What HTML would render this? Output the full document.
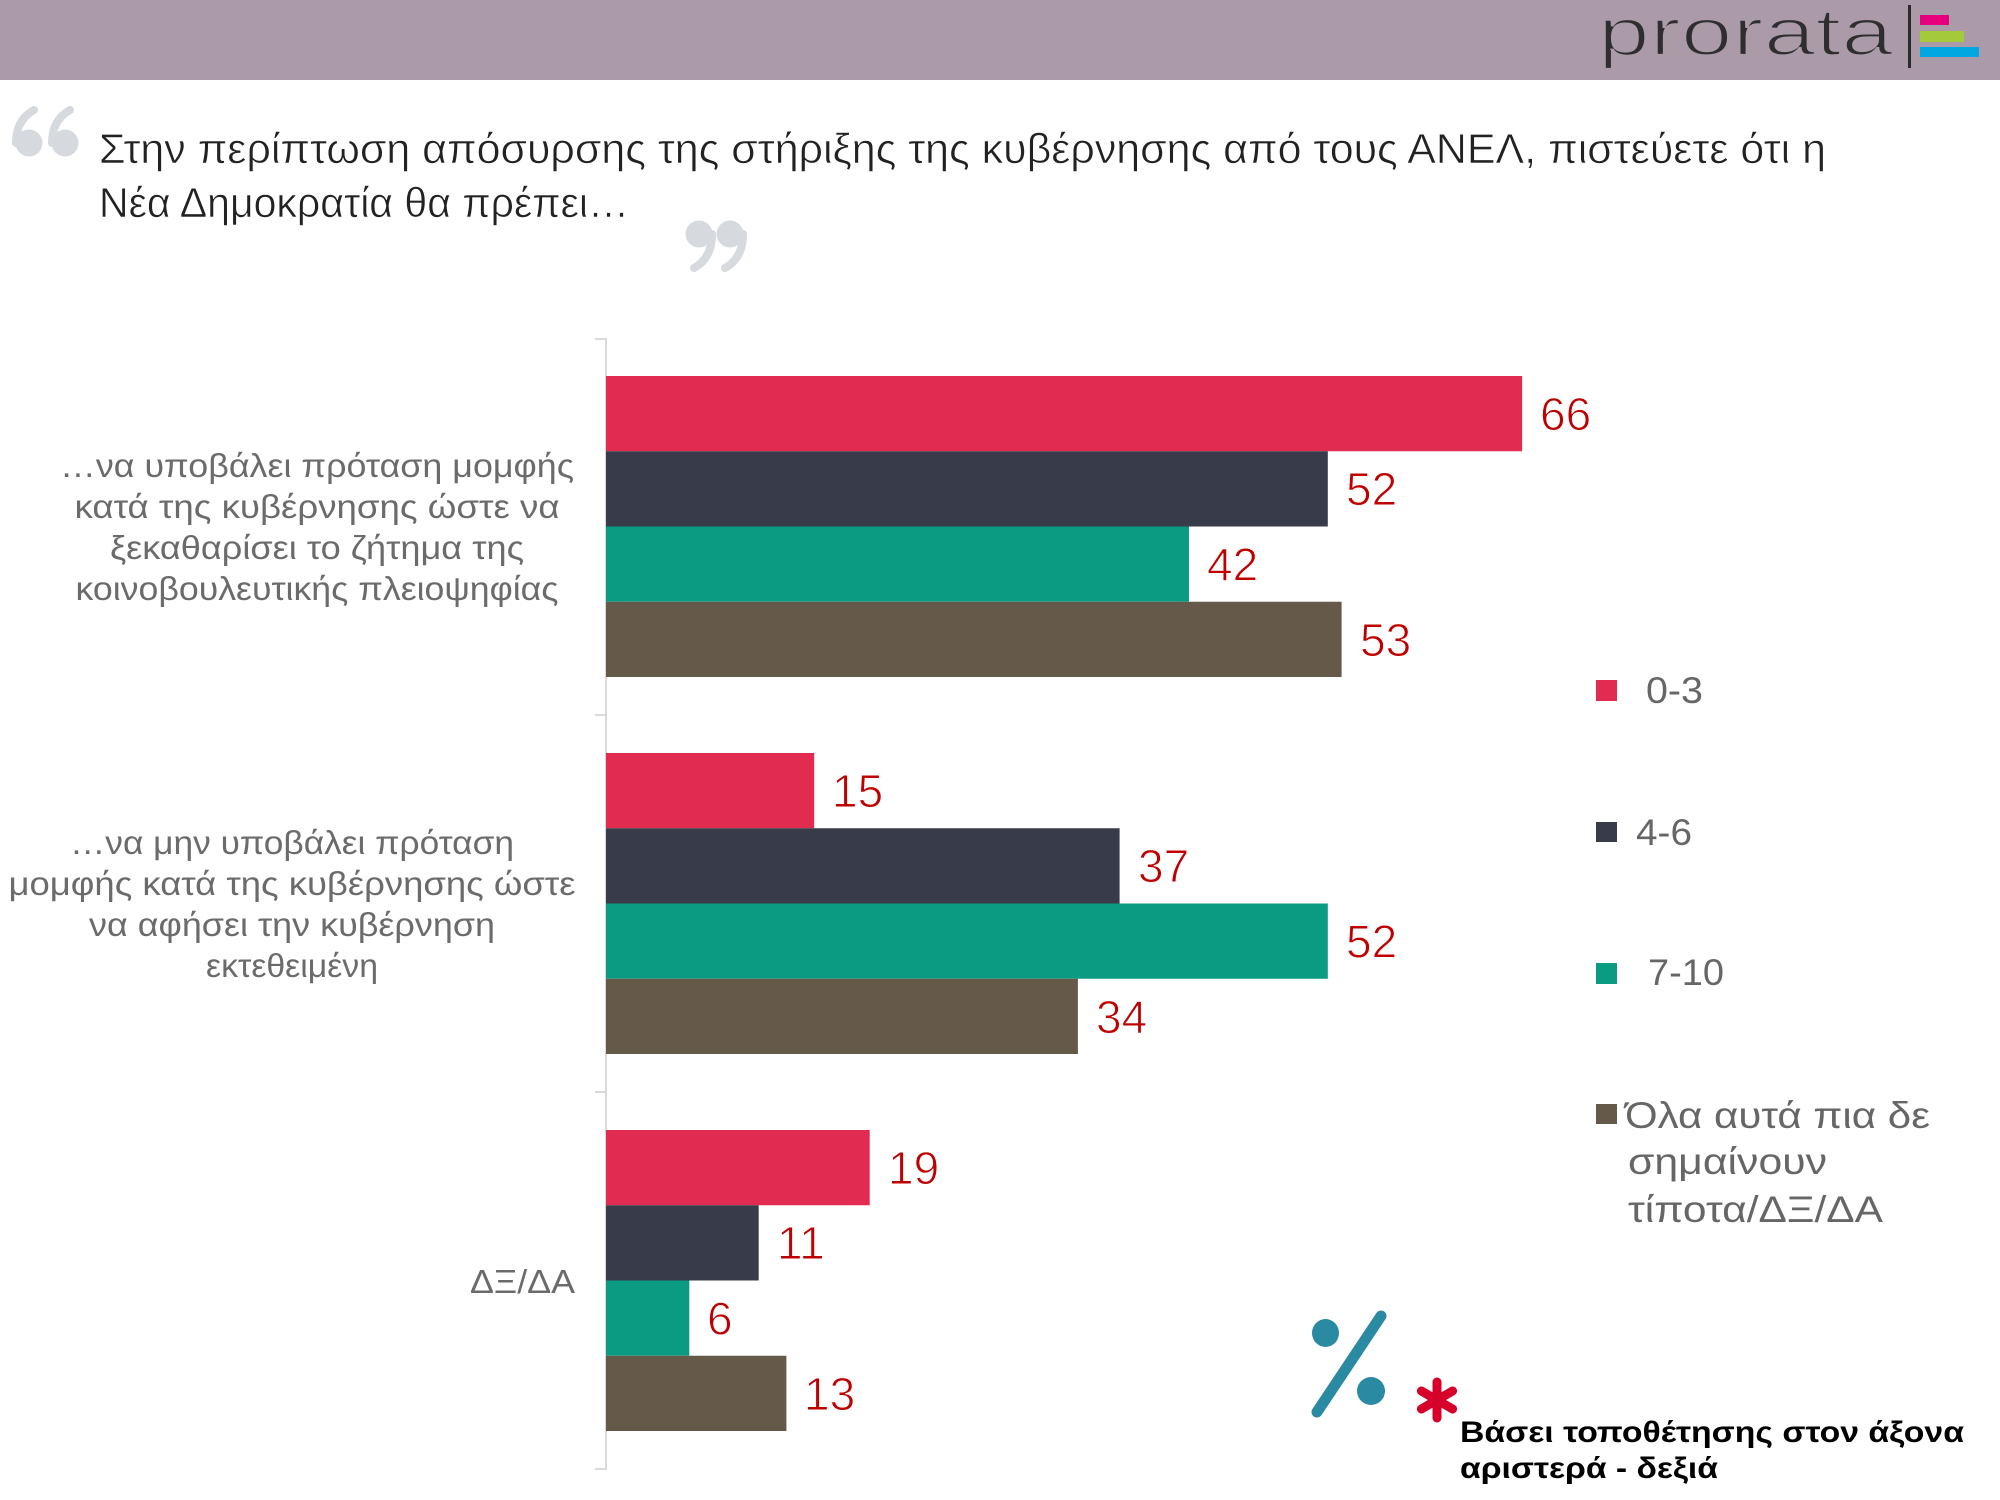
<!DOCTYPE html>
<html>
<head>
<meta charset="utf-8">
<style>
  html, body { margin: 0; padding: 0; background: #ffffff; }
  svg { display: block; }
  text { font-family: "Liberation Sans", "DejaVu Sans", sans-serif; }
</style>
</head>
<body>
<svg width="2000" height="1500" viewBox="0 0 2000 1500" xmlns="http://www.w3.org/2000/svg">
  <rect x="0" y="0" width="2000" height="1500" fill="#ffffff"/>

  <!-- Header -->
  <rect x="0" y="0" width="2000" height="80" fill="#ab9ba9"/>
  <text x="1598" y="55" font-size="67" fill="#2e2e2e" stroke="#ab9ba9" stroke-width="2.2" textLength="295" lengthAdjust="spacingAndGlyphs">prorata</text>
  <rect x="1908" y="5" width="3" height="63" fill="#2a2a2a"/>
  <rect x="1920" y="15" width="29" height="10" fill="#e6007e"/>
  <rect x="1920" y="31" width="44" height="11" fill="#a4c93a"/>
  <rect x="1920" y="47" width="59" height="10" fill="#00a7e1"/>

  <!-- Quote marks -->
  <g fill="#d6d9dd" stroke="none">
    <circle cx="29" cy="143" r="13.5"/>
    <path d="M34 110 Q16 120 16 143" stroke="#d6d9dd" stroke-width="8" fill="none" stroke-linecap="round"/>
    <circle cx="65" cy="143" r="13.5"/>
    <path d="M70 110 Q52 120 52 143" stroke="#d6d9dd" stroke-width="8" fill="none" stroke-linecap="round"/>
    <circle cx="699" cy="234" r="13.5"/>
    <path d="M694 268 Q712 258 712 234" stroke="#d6d9dd" stroke-width="8" fill="none" stroke-linecap="round"/>
    <circle cx="730" cy="234" r="13.5"/>
    <path d="M725 268 Q743 258 743 234" stroke="#d6d9dd" stroke-width="8" fill="none" stroke-linecap="round"/>
  </g>

  <!-- Title -->
  <g font-size="42" fill="#222222" stroke="#ffffff" stroke-width="0.6">
    <text x="99" y="163" textLength="1727" lengthAdjust="spacingAndGlyphs">Στην περίπτωση απόσυρσης της στήριξης της κυβέρνησης από τους ΑΝΕΛ, πιστεύετε ότι η</text>
    <text x="99" y="217" textLength="530" lengthAdjust="spacingAndGlyphs">Νέα Δημοκρατία θα πρέπει…</text>
  </g>

  <!-- Axis -->
  <g stroke="#d9d9d9" stroke-width="2">
    <line x1="606" y1="338" x2="606" y2="1470"/>
    <line x1="595" y1="339" x2="606" y2="339"/>
    <line x1="595" y1="715" x2="606" y2="715"/>
    <line x1="595" y1="1092" x2="606" y2="1092"/>
    <line x1="595" y1="1469" x2="606" y2="1469"/>
  </g>

  <!-- Bars group 1 -->
  <rect x="606" y="376" width="916.1" height="75.25" fill="#e22b51"/>
  <rect x="606" y="451.25" width="721.8" height="75.25" fill="#383b4a"/>
  <rect x="606" y="526.5" width="583.0" height="75.25" fill="#0a9b82"/>
  <rect x="606" y="601.75" width="735.6" height="75.25" fill="#655a4a"/>
  <!-- Bars group 2 -->
  <rect x="606" y="753" width="208.2" height="75.25" fill="#e22b51"/>
  <rect x="606" y="828.25" width="513.6" height="75.25" fill="#383b4a"/>
  <rect x="606" y="903.5" width="721.8" height="75.25" fill="#0a9b82"/>
  <rect x="606" y="978.75" width="471.9" height="75.25" fill="#655a4a"/>
  <!-- Bars group 3 -->
  <rect x="606" y="1130" width="263.7" height="75.25" fill="#e22b51"/>
  <rect x="606" y="1205.25" width="152.7" height="75.25" fill="#383b4a"/>
  <rect x="606" y="1280.5" width="83.3" height="75.25" fill="#0a9b82"/>
  <rect x="606" y="1355.75" width="180.4" height="75.25" fill="#655a4a"/>

  <!-- Value labels -->
  <g font-size="46" fill="#c00000" stroke="#ffffff" stroke-width="1">
    <text x="1540" y="430">66</text>
    <text x="1346" y="505">52</text>
    <text x="1207" y="580.5">42</text>
    <text x="1360" y="656">53</text>
    <text x="832" y="807">15</text>
    <text x="1138" y="882">37</text>
    <text x="1346" y="957.5">52</text>
    <text x="1096" y="1033">34</text>
    <text x="888" y="1184">19</text>
    <text x="777" y="1259">11</text>
    <text x="707" y="1334.5">6</text>
    <text x="804" y="1410">13</text>
  </g>

  <!-- Category labels -->
  <g font-size="33" fill="#6b6b6b" text-anchor="middle">
    <text x="317" y="477" textLength="514" lengthAdjust="spacingAndGlyphs">…να υποβάλει πρόταση μομφής</text>
    <text x="317" y="518" textLength="485" lengthAdjust="spacingAndGlyphs">κατά της κυβέρνησης ώστε να</text>
    <text x="317" y="559" textLength="414" lengthAdjust="spacingAndGlyphs">ξεκαθαρίσει το ζήτημα της</text>
    <text x="317" y="600" textLength="483" lengthAdjust="spacingAndGlyphs">κοινοβουλευτικής πλειοψηφίας</text>

    <text x="292" y="854" textLength="444" lengthAdjust="spacingAndGlyphs">…να μην υποβάλει πρόταση</text>
    <text x="292" y="895" textLength="567" lengthAdjust="spacingAndGlyphs">μομφής κατά της κυβέρνησης ώστε</text>
    <text x="292" y="936" textLength="406" lengthAdjust="spacingAndGlyphs">να αφήσει την κυβέρνηση</text>
    <text x="292" y="977" textLength="172" lengthAdjust="spacingAndGlyphs">εκτεθειμένη</text>
  </g>
  <text x="575" y="1293" font-size="33" fill="#6b6b6b" text-anchor="end" textLength="105" lengthAdjust="spacingAndGlyphs">ΔΞ/ΔΑ</text>

  <!-- Legend -->
  <rect x="1596" y="680" width="21" height="21" fill="#e22b51"/>
  <rect x="1596" y="822" width="21" height="20" fill="#383b4a"/>
  <rect x="1596" y="963" width="21" height="21" fill="#0a9b82"/>
  <rect x="1596" y="1104" width="21" height="20" fill="#655a4a"/>
  <g font-size="37" fill="#666666">
    <text x="1646" y="703" textLength="57" lengthAdjust="spacingAndGlyphs">0-3</text>
    <text x="1636" y="845" textLength="56" lengthAdjust="spacingAndGlyphs">4-6</text>
    <text x="1648" y="985" textLength="76" lengthAdjust="spacingAndGlyphs">7-10</text>
    <text x="1625" y="1128" textLength="305" lengthAdjust="spacingAndGlyphs">Όλα αυτά πια δε</text>
    <text x="1628" y="1174" textLength="199" lengthAdjust="spacingAndGlyphs">σημαίνουν</text>
    <text x="1628" y="1222" textLength="255" lengthAdjust="spacingAndGlyphs">τίποτα/ΔΞ/ΔΑ</text>
  </g>

  <!-- Percent icon -->
  <g fill="#2a8aa1">
    <ellipse cx="1325.5" cy="1333" rx="13.5" ry="14"/>
    <ellipse cx="1371" cy="1391" rx="14" ry="14"/>
  </g>
  <line x1="1381" y1="1316" x2="1317" y2="1412" stroke="#2a8aa1" stroke-width="11" stroke-linecap="round"/>

  <!-- Asterisk -->
  <g stroke="#d6002a" stroke-width="9" stroke-linecap="round">
    <line x1="1437" y1="1382" x2="1437" y2="1418"/>
    <line x1="1421.4" y1="1391" x2="1452.6" y2="1409"/>
    <line x1="1421.4" y1="1409" x2="1452.6" y2="1391"/>
  </g>

  <!-- Footnote -->
  <g font-size="30" font-weight="bold" fill="#000000">
    <text x="1460" y="1442" textLength="504" lengthAdjust="spacingAndGlyphs">Βάσει τοποθέτησης στον άξονα</text>
    <text x="1460" y="1478" textLength="258" lengthAdjust="spacingAndGlyphs">αριστερά - δεξιά</text>
  </g>
</svg>
</body>
</html>
